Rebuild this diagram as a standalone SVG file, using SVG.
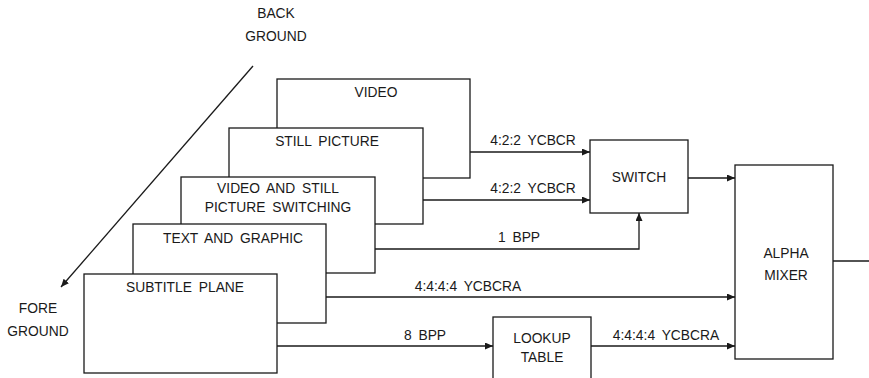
<svg xmlns="http://www.w3.org/2000/svg" width="869" height="378" viewBox="0 0 869 378">
<style>
.b{fill:#fff;stroke:#1a1a1a;stroke-width:1.3}
.c{fill:none;stroke:#1a1a1a;stroke-width:1.3}
text{font-family:"Liberation Sans",Arial,sans-serif;font-size:13.8px;fill:#1a1a1a;text-anchor:middle;word-spacing:3px}
</style>
<defs>
<marker id="ah" markerUnits="userSpaceOnUse" markerWidth="9" markerHeight="8" refX="8" refY="3.5" orient="auto">
<path d="M0,0 L8,3.5 L0,7 z" fill="#1a1a1a"/>
</marker>
</defs>
<rect width="869" height="378" fill="#fff"/>
<g id="labels-depth">
<text x="276" y="18">BACK</text>
<text x="276" y="41">GROUND</text>
<text x="38" y="313">FORE</text>
<text x="38" y="336">GROUND</text>
</g>
<g id="video"><rect class="b" x="277" y="79" width="193" height="99"/><text x="376" y="97">VIDEO</text></g>
<g id="still"><rect class="b" x="229" y="128" width="194" height="96"/><text x="327" y="146">STILL PICTURE</text></g>
<g id="vswitch"><rect class="b" x="181" y="177" width="194" height="96"/><text x="278" y="193">VIDEO AND STILL</text><text x="278" y="212">PICTURE SWITCHING</text></g>
<g id="text"><rect class="b" x="133" y="224" width="193" height="99"/><text x="233" y="243">TEXT AND GRAPHIC</text></g>
<g id="subtitle"><rect class="b" x="84" y="274" width="193" height="99"/><text x="185" y="292">SUBTITLE PLANE</text></g>
<g id="switch"><rect class="b" x="590" y="140" width="98" height="73"/><text x="639" y="182">SWITCH</text></g>
<g id="alpha"><rect class="b" x="735" y="165" width="98" height="194"/><text x="786" y="258">ALPHA</text><text x="786" y="280">MIXER</text></g>
<g id="lookup"><rect class="b" x="493" y="317" width="98" height="70"/><text x="542" y="343">LOOKUP</text><text x="542" y="362">TABLE</text></g>
<g id="connectors">
<line class="c" x1="253" y1="66" x2="61" y2="287" marker-end="url(#ah)"/>
<line class="c" x1="470" y1="152" x2="590" y2="152" marker-end="url(#ah)"/>
<line class="c" x1="423" y1="200" x2="590" y2="200" marker-end="url(#ah)"/>
<polyline class="c" points="375,249 639,249 639,213" marker-end="url(#ah)"/>
<line class="c" x1="688" y1="178" x2="735" y2="178" marker-end="url(#ah)"/>
<line class="c" x1="326" y1="297" x2="735" y2="297" marker-end="url(#ah)"/>
<line class="c" x1="277" y1="346" x2="493" y2="346" marker-end="url(#ah)"/>
<line class="c" x1="591" y1="346" x2="735" y2="346" marker-end="url(#ah)"/>
<line class="c" x1="833" y1="261" x2="869" y2="261"/>
<text x="533" y="145">4:2:2 YCBCR</text>
<text x="533" y="193">4:2:2 YCBCR</text>
<text x="519" y="242">1 BPP</text>
<text x="468" y="291">4:4:4:4 YCBCRA</text>
<text x="425" y="340">8 BPP</text>
<text x="666" y="340">4:4:4:4 YCBCRA</text>
</g>
</svg>
